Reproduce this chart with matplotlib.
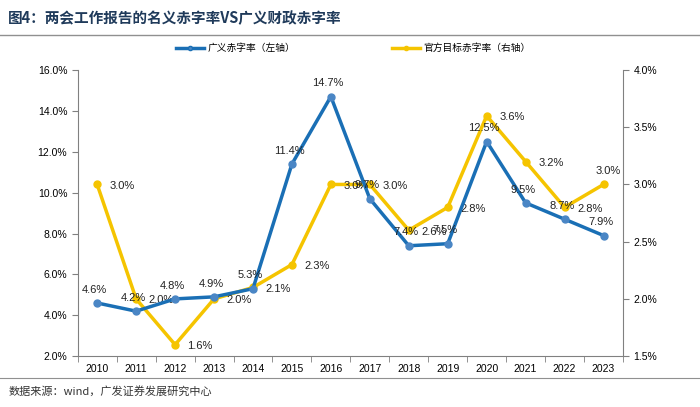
import numpy as np
import matplotlib
matplotlib.use('Agg')
import matplotlib.pyplot as plt
from matplotlib.ticker import FixedLocator, PercentFormatter

plt.rcParams['font.family'] = ['Liberation Sans', 'Noto Sans CJK SC', 'DejaVu Sans']

years = ['2010', '2011', '2012', '2013', '2014', '2015', '2016',
         '2017', '2018', '2019', '2020', '2021', '2022', '2023']
broad_deficit = [4.6, 4.2, 4.8, 4.9, 5.3, 11.4, 14.7, 9.7, 7.4, 7.5, 12.5, 9.5, 8.7, 7.9]
target_deficit = [3.0, 2.0, 1.6, 2.0, 2.1, 2.3, 3.0, 3.0, 2.6, 2.8, 3.6, 3.2, 2.8, 3.0]

blue = '#1a6fb5'
yellow = '#f5c400'
axis_col = '#808080'

fig = plt.figure(figsize=(7, 4.07), dpi=100)
ax = fig.add_axes([0.111, 0.125, 0.779, 0.703])
ax2 = ax.twinx()

x = np.arange(len(years))
ax2.plot(x, target_deficit, color=yellow, lw=2.5, marker='o', ms=5,
         markerfacecolor=yellow, markeredgecolor=yellow, zorder=2)
ax.plot(x, broad_deficit, color=blue, lw=2.5, marker='o', ms=5,
        markerfacecolor='#4a86c5', markeredgecolor='#4a86c5', zorder=3)
ax.set_zorder(ax2.get_zorder() + 1)
ax.patch.set_visible(False)

for xi, v in zip(x, broad_deficit):
    ax.annotate('%.1f%%' % v, (xi, v), xytext=(-2, 6), textcoords='offset points',
                ha='center', va='bottom', fontsize=8, color='#222222')
for i, (xi, v) in enumerate(zip(x, target_deficit)):
    if i == len(x) - 1:
        ax2.annotate('%.1f%%' % v, (xi, v), xytext=(3, 6), textcoords='offset points',
                     ha='center', va='bottom', fontsize=8, color='#222222')
    else:
        ax2.annotate('%.1f%%' % v, (xi, v), xytext=(9, -1), textcoords='offset points',
                     ha='left', va='center', fontsize=8, color='#222222')

ax.set_xlim(-0.5, len(years) - 0.5)
ax.set_ylim(2, 16)
ax2.set_ylim(1.5, 4.0)
ax.set_yticks(np.arange(2, 16.1, 2))
ax2.set_yticks(np.arange(1.5, 4.01, 0.5))
ax.yaxis.set_major_formatter(PercentFormatter(decimals=1))
ax2.yaxis.set_major_formatter(PercentFormatter(decimals=1))

ax.set_xticks(x)
ax.set_xticklabels(years)
ax.xaxis.set_minor_locator(FixedLocator(np.arange(-0.5, len(years), 1)))
ax.tick_params(axis='x', which='major', length=0, labelsize=7.5, pad=6)
ax.tick_params(axis='x', which='minor', length=4, color=axis_col, direction='out')
ax.tick_params(axis='y', length=4, color=axis_col, direction='out', labelsize=7.5)
ax2.tick_params(axis='y', length=4, color=axis_col, direction='out', labelsize=7.5)

for a in (ax, ax2):
    a.spines['top'].set_visible(False)
    for s in ('left', 'right', 'bottom'):
        a.spines[s].set_color(axis_col)
ax.spines['right'].set_visible(False)
ax2.spines['left'].set_visible(False)
ax2.spines['bottom'].set_visible(False)

ax.plot([], [], color=blue, lw=2.5, marker='o', ms=3, markerfacecolor='#4a86c5',
        label='广义赤字率（左轴）')
ax.plot([], [], color=yellow, lw=2.5, marker='o', ms=3, label='官方目标赤字率（右轴）')
fig.legend(loc='center', bbox_to_anchor=(0.505, 0.882), ncol=2, frameon=False,
           fontsize=7, columnspacing=10, handlelength=2.8, handletextpad=0.4,
           prop={'family': ['Noto Sans CJK SC'], 'size': 7})

fig.text(0.012, 0.955, '图4：两会工作报告的名义赤字率VS广义财政赤字率', fontsize=10.5,
         fontweight='bold', color='#1f3a5a', va='center', family=['Noto Sans CJK SC'])
fig.add_artist(plt.Line2D([0, 1], [0.914, 0.914], color='#909090', lw=1))
fig.add_artist(plt.Line2D([0, 1], [0.071, 0.071], color='#909090', lw=0.8))
fig.text(0.012, 0.038, '数据来源：wind，广发证券发展研究中心', fontsize=8,
         color='#333333', va='center', family=['Noto Sans CJK SC'])

fig.savefig('out.png', dpi=100)
